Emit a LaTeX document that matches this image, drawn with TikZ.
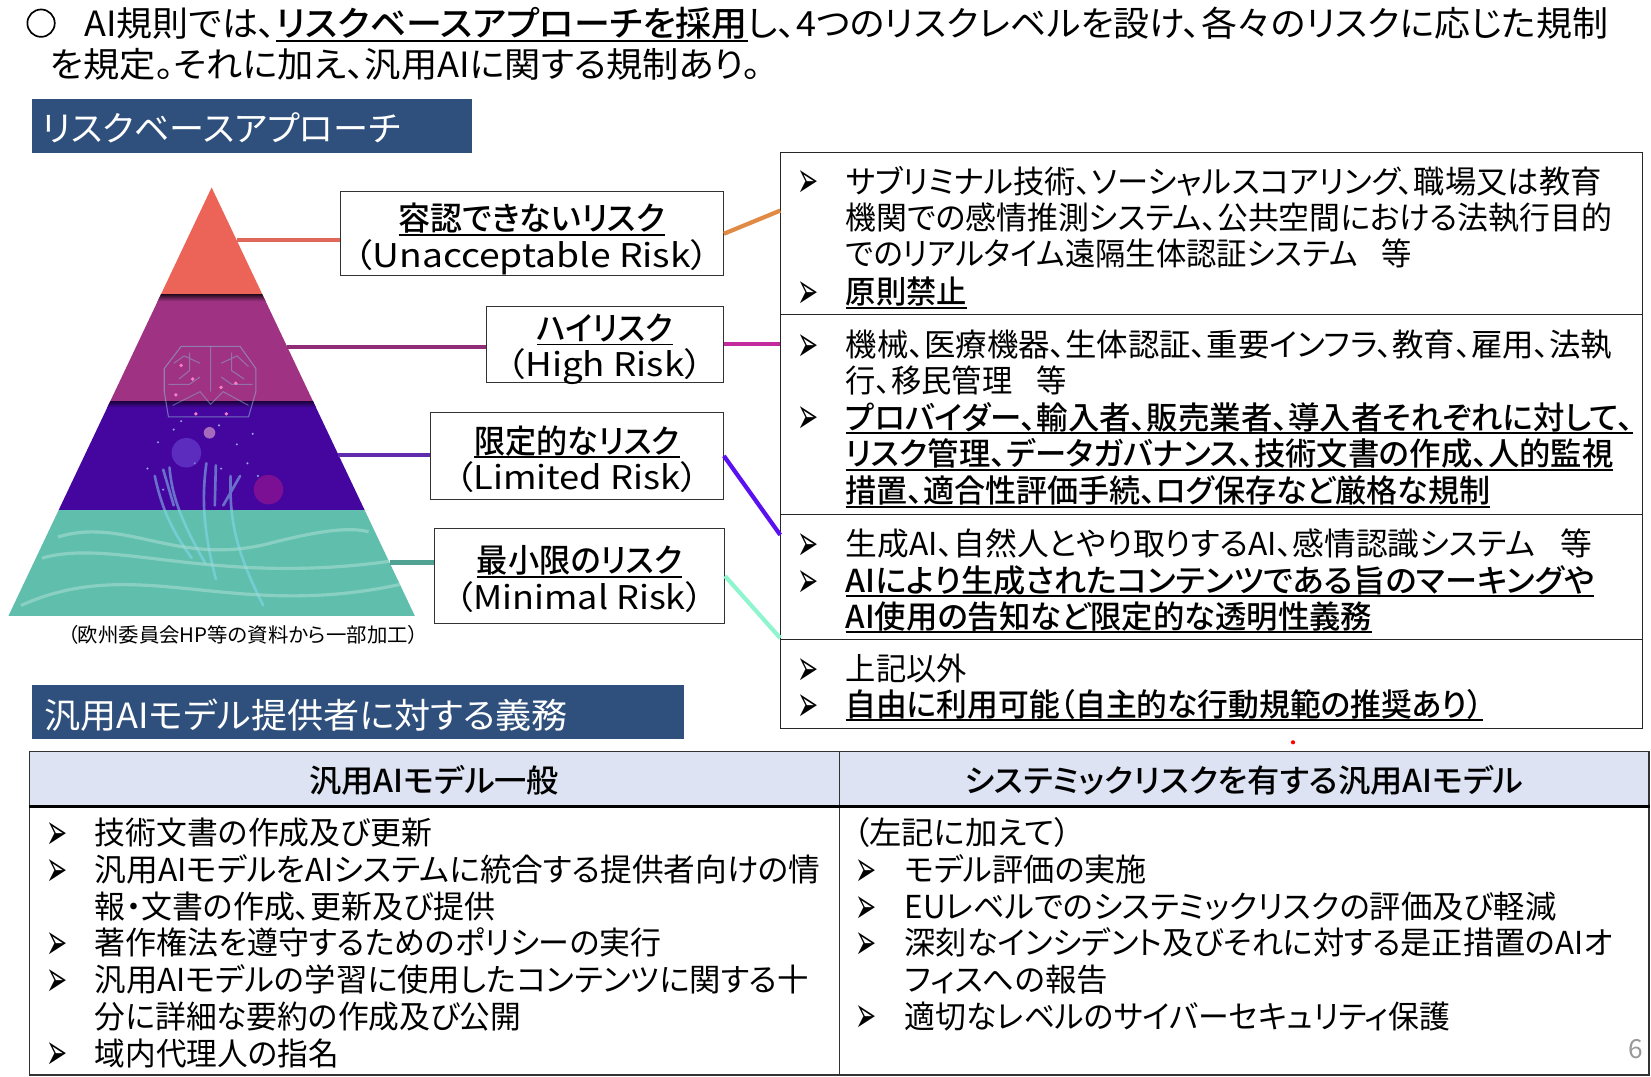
\documentclass[tikz,border=0pt]{standalone}
\usepackage{fontspec}
\usepackage{graphicx}
\setmainfont[RawFeature=+palt]{Noto Sans CJK JP}
\newfontfamily\semib[RawFeature=+palt]{Noto Sans CJK JP Medium}
\newfontfamily\symfont{DejaVu Sans}
\definecolor{bannerblue}{HTML}{2F507C}
\definecolor{headblue}{HTML}{DDE3F2}
\definecolor{bandred}{HTML}{EC6457}
\definecolor{bandplum}{HTML}{A03283}
\definecolor{bandindigo}{HTML}{45069F}
\definecolor{bandteal}{HTML}{5FBFAC}
\definecolor{linkorange}{HTML}{E08B45}
\definecolor{linkmagenta}{HTML}{C32A9E}
\definecolor{linkviolet}{HTML}{5A10F0}
\definecolor{linkmint}{HTML}{8FF5CF}
% fit a line of text to the width it has in the picture
\newcommand\fitw[2]{\resizebox{#1pt}{\height}{#2}}
\newcommand\ulb[1]{\setbox0=\hbox{\semib #1}\rlap{\rule[-4.5pt]{\wd0}{1.7pt}}\box0}
\tikzset{
    txtline/.style = {anchor = west, inner sep = 0pt, text height = 26pt, text depth = 3pt, font = \fontsize{30}{34}\selectfont},
    bigline/.style = {txtline, text height = 28pt, text depth = 2pt, font = \fontsize{33}{36}\selectfont},
    bulletmark/.style = {inner sep = 0pt, font = \symfont\fontsize{24}{24}\selectfont},
    riskbox/.style = {draw = black!80, line width = 1pt, inner sep = 0pt},
    risktext/.style = {align = center, inner sep = 0pt, font = \fontsize{31}{34.5}\selectfont},
    panelbox/.style = {draw = black!85, line width = 1.1pt, inner sep = 0pt},
    banner/.style = {fill = bannerblue, inner sep = 0pt, minimum height = 51pt},
    headcell/.style = {draw = black!80, line width = 1.2pt, fill = headblue, inner sep = 0pt, minimum height = 51pt},
    bodycell/.style = {draw = black!80, line width = 1.2pt, inner sep = 0pt, minimum height = 256pt},
    feeder/.style = {line width = 4pt},
}
\begin{document}
\begin{tikzpicture}[x = 1pt, y = -1pt]
    \useasboundingbox (0,0) rectangle (1568,1022);

    % heading text
    \node [circle, draw, line width = 1.6pt, minimum size = 26pt, inner sep = 0pt] (titleMark) at (39,22) {};
    \node [bigline] (titleA) at (80,22) {\fitw{1447}{AI規則では、\ulb{リスクベースアプローチを採用}し、4つのリスクレベルを設け、各々のリスクに応じた規制}};
    \node [bigline] (titleB) at (47,61) {\fitw{676}{を規定。それに加え、汎用AIに関する規制あり。}};
    \node [banner, minimum width = 418pt] (bannerRisk) at (239,119.5) {};
    \node [bigline, text = white] (bannerRiskText) at (40,121) {\fitw{340}{リスクベースアプローチ}};
    \node [banner, minimum width = 620pt] (bannerGpai) at (340,676.5) {};
    \node [bigline, text = white] (bannerGpaiText) at (42,679) {\fitw{497}{汎用AIモデル提供者に対する義務}};

    % pyramid
    \begin{scope}
        \clip (201,178) -- (394,585) -- (8,585) -- cycle;
        \fill [bandred] (0,178) rectangle (400,280);
        \fill [bandplum] (0,280) rectangle (400,381);
        \fill [bandindigo] (0,381) rectangle (400,484);
        \fill [bandteal] (0,484) rectangle (400,585);
        \shade [top color = black!70!bandplum, bottom color = bandplum] (0,280) rectangle (400,286);
        \shade [top color = black!60!bandindigo, bottom color = bandindigo] (0,381) rectangle (400,387);
        % brain
        \draw [bandplum!55!cyan!70!white, opacity = .6, line width = 1pt] (172,329) -- (228,329) -- (243,350) -- (243,372) -- (236,396) -- (160,396) -- (156,372) -- (156,350) -- cycle;
        \draw [bandplum!55!cyan!70!white, opacity = .5, line width = 1pt] (180,335) -- (180,352) -- (170,360) (200,329) -- (200,372) (220,335) -- (220,352) -- (232,360) (164,385) -- (190,372) -- (200,384) -- (212,372) -- (236,385)
            (165,345) -- (175,338) -- (190,345) (210,345) -- (225,338) -- (236,348) (160,365) -- (180,365) -- (190,358) (240,365) -- (220,365) -- (210,358);
        \foreach \x/\y in {172/347,183/360,210/368,224/364,186/393,215/393,167/375}
            \fill [magenta!50!white] (\x,\y) circle (1.8);
        \foreach \x/\y in {150/420,165/408,225/422,240/412,140/445,235/440,185/440,210/445,155/465,245/452,172/400,208/404}
            \fill [cyan!30!white, opacity = .7] (\x,\y) circle (1.1);
        % glows
        \fill [white!55!violet, opacity = .75] (199,411) circle (5.5);
        \fill [violet!40!blue!70!white, opacity = .55] (177,430) circle (14);
        \fill [magenta!70!violet, opacity = .4] (255,465) circle (14);
        % hand
        \draw [cyan!45!white, opacity = .5, line width = 2.5pt, line cap = round] (147,452) .. controls (155,490) and (168,510) .. (182,530)
            (161,444) .. controls (163,470) and (172,495) .. (195,535)
            (196,440) .. controls (192,470) and (192,500) .. (205,550)
            (219,452) .. controls (218,490) and (222,520) .. (250,575)
            (155,446) -- (165,480) (205,442) -- (204,480) (212,480) -- (228,452);
        % waves
        \draw [white!45!bandteal, opacity = .6, line width = 3pt] (40,530) .. controls (110,510) and (210,560) .. (390,530)
            (20,575) .. controls (130,525) and (220,590) .. (380,555)
            (55,510) .. controls (120,490) and (170,540) .. (260,515) .. controls (300,505) and (330,500) .. (350,505);
    \end{scope}
    \node [inner sep = 0pt, anchor = west, font = \fontsize{19}{22}\selectfont] (sourceNote) at (64,603) {\fitw{333}{（欧州委員会HP等の資料から一部加工）}};

    % risk labels
    \node [riskbox, minimum width = 364pt, minimum height = 80pt] (boxUnacc) at (505,222) {};
    \node [riskbox, minimum width = 225pt, minimum height = 72pt] (boxHigh) at (574.5,327) {};
    \node [riskbox, minimum width = 278pt, minimum height = 82pt] (boxLimited) at (548,433) {};
    \node [riskbox, minimum width = 275pt, minimum height = 90pt] (boxMinimal) at (550.5,547) {};
    \node [risktext, yshift = -5pt] (labelUnacc) at (boxUnacc) {\fitw{253}{\ulb{容認できないリスク}}\\\fitw{338}{（Unacceptable Risk）}};
    \node [risktext, yshift = -5pt] (labelHigh) at (boxHigh) {\fitw{129}{\ulb{ハイリスク}}\\\fitw{186}{（High Risk）}};
    \node [risktext, yshift = -3pt] (labelLimited) at (boxLimited) {\fitw{195}{\ulb{限定的なリスク}}\\\fitw{231}{（Limited Risk）}};
    \node [risktext, yshift = -3pt] (labelMinimal) at (boxMinimal) {\fitw{195}{\ulb{最小限のリスク}}\\\fitw{236}{（Minimal Risk）}};

    % risk panels
    \node [panelbox, minimum width = 819pt, minimum height = 154pt] (panelUnacc) at (1150.5,222) {};
    \node [panelbox, minimum width = 819pt, minimum height = 190pt] (panelHigh) at (1150.5,394) {};
    \node [panelbox, minimum width = 819pt, minimum height = 118pt] (panelLimited) at (1150.5,548) {};
    \node [panelbox, minimum width = 819pt, minimum height = 85pt] (panelMinimal) at (1150.5,649.5) {};

    % feeders from the pyramid
    \coordinate (tipUnacc) at (225,228);
    \coordinate (tipHigh) at (273,329.5);
    \coordinate (tipLimited) at (321,432);
    \coordinate (tipMinimal) at (370,534);
    \draw [feeder, color = bandred!90!gray] (tipUnacc) -- (tipUnacc -| boxUnacc.west);
    \draw [feeder, color = bandplum!90!black] (tipHigh) -- (tipHigh -| boxHigh.west);
    \draw [feeder, color = bandindigo!85!white] (tipLimited) -- (tipLimited -| boxLimited.west);
    \draw [feeder, color = bandteal!85!black, line width = 5pt] (tipMinimal) -- (tipMinimal -| boxMinimal.west);

    % connectors to the panels
    \coordinate (endUnacc) at (741,200);
    \coordinate (endLimited) at (741,508);
    \coordinate (endMinimal) at (741,606);
    \draw [feeder, color = linkorange] (boxUnacc.east) -- (endUnacc);
    \draw [feeder, color = linkmagenta] (boxHigh.east) -- (boxHigh.east -| panelHigh.west);
    \draw [feeder, color = linkviolet] (boxLimited.east) -- (endLimited);
    \draw [feeder, color = linkmint] (boxMinimal.east) -- (endMinimal);

    % panel text
    \foreach \y/\w/\txt [count = \i] in {
        172/718/{サブリミナル技術、ソーシャルスコアリング、職場又は教育},
        206/728/{機関での感情推測システム、公共空間における法執行目的},
        241/538/{でのリアルタイム遠隔生体認証システム\hspace{.8em}等},
        277/115/{\ulb{原則禁止}},
        327/728/{機械、医療機器、生体認証、重要インフラ、教育、雇用、法執},
        361/210/{行、移民管理\hspace{.8em}等},
        396/748/{\ulb{プロバイダー、輸入者、販売業者、導入者それぞれに対して、}},
        431/729/{\ulb{リスク管理、データガバナンス、技術文書の作成、人的監視}},
        466/612/{\ulb{措置、適合性評価手続、ログ保存など厳格な規制}},
        516/709/{生成AI、自然人とやり取りするAI、感情認識システム\hspace{.8em}等},
        551/711/{\ulb{AIにより生成されたコンテンツである旨のマーキングや}},
        585/500/{\ulb{AI使用の告知など限定的な透明性義務}},
        635/115/{上記以外},
        669/605/{\ulb{自由に利用可能（自主的な行動規範の推奨あり）}}}
        \node [txtline] (panelLine\i) at (803,\y) {\fitw{\w}{\txt}};

    % duty table
    \node [headcell, minimum width = 769pt] (headGeneral) at (412.5,739.5) {};
    \node [headcell, minimum width = 769pt] (headSystemic) at (1181.5,739.5) {};
    \node [bodycell, minimum width = 769pt] (cellGeneral) at (412.5,893) {};
    \node [bodycell, minimum width = 769pt] (cellSystemic) at (1181.5,893) {};
    \draw [line width = 3pt] (headGeneral.south west) -- (headSystemic.south east);
    \node [inner sep = 0pt, font = \semib\fontsize{30}{34}\selectfont] (headGeneralText) at (412.5,741) {\fitw{237}{汎用AIモデル一般}};
    \node [inner sep = 0pt, font = \semib\fontsize{30}{34}\selectfont] (headSystemicText) at (1181.5,741) {\fitw{531}{システミックリスクを有する汎用AIモデル}};

    \foreach \y/\w/\txt [count = \i] in {
        791/320/{技術文書の作成及び更新},
        826/689/{汎用AIモデルをAIシステムに統合する提供者向けの情},
        861/380/{報・文書の作成、更新及び提供},
        895/538/{著作権法を遵守するためのポリシーの実行},
        930/678/{汎用AIモデルの学習に使用したコンテンツに関する十},
        965/405/{分に詳細な要約の作成及び公開},
        1000/232/{域内代理人の指名}}
        \node [txtline] (generalLine\i) at (90,\y) {\fitw{\w}{\txt}};

    \node [txtline] (systemicIntro) at (810,791) {\fitw{207}{（左記に加えて）}};
    \foreach \y/\w/\txt [count = \i] in {
        826/230/{モデル評価の実施},
        861/619/{EUレベルでのシステミックリスクの評価及び軽減},
        895/672/{深刻なインシデント及びそれに対する是正措置のAIオ},
        930/193/{フィスへの報告},
        965/518/{適切なレベルのサイバーセキュリティ保護}}
        \node [txtline] (systemicLine\i) at (859,\y) {\fitw{\w}{\txt}};

    % bullets
    \foreach \x/\y [count = \i] in {767/172,767/277,767/327,767/396,767/516,767/551,767/635,767/669,
        54/791,54/826,54/895,54/930,54/1000,823/826,823/861,823/895,823/965}
        \node [bulletmark] (bullet\i) at (\x,\y) {\smash{\raisebox{-16pt}{\scalebox{1}[2]{➢}}}};

    \node [circle, fill = red, inner sep = 0pt, minimum size = 4pt] (redDot) at (1228,705) {};
    \node [inner sep = 0pt, text = black!40, font = \fontsize{25}{27}\selectfont] (pageNo) at (1554,996) {6};
\end{tikzpicture}
\end{document}
